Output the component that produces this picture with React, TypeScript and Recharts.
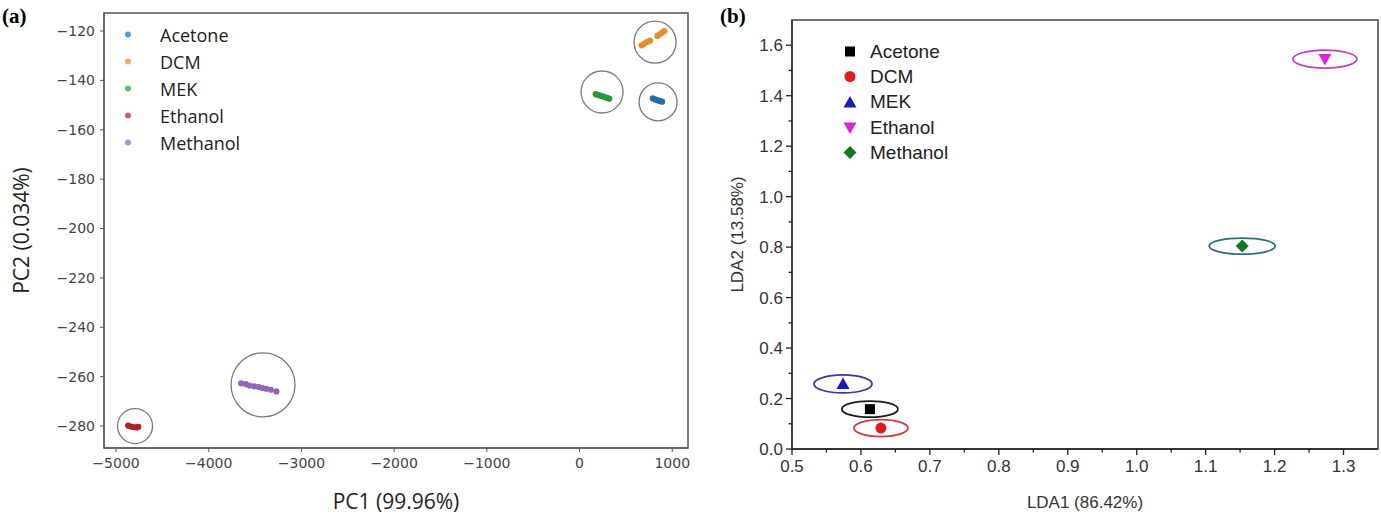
import React from "react";
import { ScatterChart, Scatter, XAxis, YAxis, Label, ReferenceArea, Legend } from "recharts";

const solvents = ["Acetone", "DCM", "MEK", "Ethanol", "Methanol"];

// (a) PCA scores, PC1 / PC2
const acetonePC = [
  { x: 790, y: -147.3 }, { x: 815, y: -147.7 }, { x: 840, y: -148.0 },
  { x: 865, y: -148.3 }, { x: 890, y: -148.6 },
];
const dcmPC = [
  { x: 670, y: -125.8 }, { x: 700, y: -125.1 }, { x: 730, y: -124.4 }, { x: 760, y: -123.9 },
  { x: 840, y: -122.0 }, { x: 865, y: -121.3 }, { x: 890, y: -120.6 }, { x: 915, y: -120.0 },
];
const mekPC = [
  { x: 175, y: -145.6 }, { x: 205, y: -146.0 }, { x: 235, y: -146.3 },
  { x: 265, y: -146.7 }, { x: 295, y: -147.1 }, { x: 320, y: -147.4 },
];
const ethanolPC = [
  { x: -4870, y: -279.8 }, { x: -4840, y: -280.2 }, { x: -4810, y: -280.4 },
  { x: -4780, y: -280.6 }, { x: -4760, y: -280.3 },
];
const methanolPC = [
  { x: -3650, y: -262.7 }, { x: -3600, y: -263.0 }, { x: -3560, y: -263.6 },
  { x: -3510, y: -263.9 }, { x: -3460, y: -264.2 }, { x: -3420, y: -264.6 },
  { x: -3380, y: -264.9 }, { x: -3330, y: -265.3 }, { x: -3270, y: -266.0 },
];
const pcaSeries = [acetonePC, dcmPC, mekPC, ethanolPC, methanolPC];
const ringX = [847, 815, 243, -4795, -3414];
const ringY = [-148.7, -124.5, -144.7, -280, -263.3];
const pcaXTicks = [-5000, -4000, -3000, -2000, -1000, 0, 1000];
const pcaYTicks = [-120, -140, -160, -180, -200, -220, -240, -260, -280];

// (b) LDA scores
const ldaX = [0.613, 0.629, 0.574, 1.273, 1.153];
const ldaY = [0.158, 0.083, 0.258, 1.545, 0.804];
const ldaXMajor = [0.5, 0.6, 0.7, 0.8, 0.9, 1.0, 1.1, 1.2, 1.3];
const ldaXMinor = [0.55, 0.65, 0.75, 0.85, 0.95, 1.05, 1.15, 1.25];
const ldaYMajor = [0, 0.2, 0.4, 0.6, 0.8, 1.0, 1.2, 1.4, 1.6];
const ldaYMinor = [0.1, 0.3, 0.5, 0.7, 0.9, 1.1, 1.3, 1.5];

const pcaColor: Record<string, string> = {
  Acetone: "#1f6fa8", DCM: "#ea8c25", MEK: "#2a9a34", Ethanol: "#b3202c", Methanol: "#8f66bd",
};
const ringPx: Record<string, number> = { Acetone: 19, DCM: 21, MEK: 21, Ethanol: 17.5, Methanol: 32 };
const ellipseColor: Record<string, string> = {
  Acetone: "#1a1a1a", DCM: "#cc3a3a", MEK: "#3535b5", Ethanol: "#c23cc8", Methanol: "#2a7272",
};
const ellipsePx: Record<string, [number, number]> = {
  Acetone: [28, 8], DCM: [27, 8.5], MEK: [29, 9], Ethanol: [32, 9], Methanol: [33, 8],
};

const rings = solvents.map((name, i) => ({ name, x: ringX[i], y: ringY[i] }));
const ldaPoints = solvents.map((name, i) => ({ name, x: ldaX[i], y: ldaY[i] }));

const minus = (v: number) => String(v).replace("-", "\u2212");

const ldaMarker = (name: string, cx: number, cy: number) => {
  switch (name) {
    case "Acetone":
      return <rect x={cx - 5} y={cy - 5} width={10} height={10} fill="#000" />;
    case "DCM":
      return <circle cx={cx} cy={cy} r={5.5} fill="#e41a1a" />;
    case "MEK":
      return <polygon points={`${cx},${cy - 6.5} ${cx + 6.5},${cy + 5} ${cx - 6.5},${cy + 5}`} fill="#1818c8" />;
    case "Ethanol":
      return <polygon points={`${cx - 6.5},${cy - 5} ${cx + 6.5},${cy - 5} ${cx},${cy + 6.5}`} fill="#e020e0" />;
    default:
      return <polygon points={`${cx},${cy - 6.5} ${cx + 6.5},${cy} ${cx},${cy + 6.5} ${cx - 6.5},${cy}`} fill="#117a1e" />;
  }
};

const LdaXTick = (p: any) => {
  const v = p.payload.value;
  const major = ldaXMajor.includes(v);
  return (
    <g>
      <line x1={p.x} x2={p.x} y1={p.y} y2={p.y + (major ? 6 : 3.5)} stroke="#222" strokeWidth={1.3} />
      {major && (
        <text x={p.x} y={p.y + 23} textAnchor="middle" fontSize={17} fill="#333" fontFamily="Liberation Sans">
          {v.toFixed(1)}
        </text>
      )}
    </g>
  );
};

const LdaYTick = (p: any) => {
  const v = p.payload.value;
  const major = ldaYMajor.includes(v);
  return (
    <g>
      <line x1={p.x} x2={p.x - (major ? 6 : 3.5)} y1={p.y} y2={p.y} stroke="#222" strokeWidth={1.3} />
      {major && (
        <text x={p.x - 9} y={p.y + 6} textAnchor="end" fontSize={17} fill="#333" fontFamily="Liberation Sans">
          {v.toFixed(1)}
        </text>
      )}
    </g>
  );
};

const PcaLegend = () => (
  <div style={{ fontFamily: "Open Sans", fontSize: 18, color: "#222" }}>
    {solvents.map((s) => (
      <div key={s} style={{ height: 27, display: "flex", alignItems: "center" }}>
        <svg width={20} height={27}>
          <circle cx={10} cy={13.5} r={3} fill={pcaColor[s]} opacity={0.7} />
        </svg>
        <span style={{ marginLeft: 22 }}>{s}</span>
      </div>
    ))}
  </div>
);

const LdaLegend = () => (
  <div style={{ fontFamily: "Liberation Sans", fontSize: 19, color: "#222" }}>
    {solvents.map((s) => (
      <div key={s} style={{ height: 25.3, display: "flex", alignItems: "center" }}>
        <svg width={20} height={25}>{ldaMarker(s, 10, 12.5)}</svg>
        <span style={{ marginLeft: 10 }}>{s}</span>
      </div>
    ))}
  </div>
);

const pcaX: [number, number] = [-5130, 1170];
const pcaY: [number, number] = [-288.9, -112.7];
const ldaXDom: [number, number] = [0.5, 1.35];
const ldaYDom: [number, number] = [0, 1.7];

export default function App() {
  return (
    <div style={{ position: "absolute", left: 0, top: 0, width: 1381, height: 521, background: "#fff" }}>
      <div style={{ position: "absolute", left: 2, top: 4, fontFamily: "Liberation Serif", fontWeight: "bold", fontSize: 21 }}>(a)</div>
      <div style={{ position: "absolute", left: 720, top: 4, fontFamily: "Liberation Serif", fontWeight: "bold", fontSize: 21 }}>(b)</div>

      <div style={{ position: "absolute", left: 0, top: 0 }}>
        <ScatterChart width={700} height={521} margin={{ top: 13, right: 12, bottom: 0, left: 0 }}>
          <XAxis
            type="number" dataKey="x" domain={pcaX} ticks={pcaXTicks} interval={0} allowDataOverflow
            height={73} tickSize={4} tickMargin={6} tickFormatter={minus}
            stroke="#555" tick={{ fill: "#444", fontSize: 14, fontFamily: "DejaVu Sans" }}
          >
            <Label value="PC1 (99.96%)" position="insideBottom" offset={12} style={{ fontFamily: "Open Sans", fontSize: 21, fill: "#222" }} />
          </XAxis>
          <YAxis
            type="number" dataKey="y" domain={pcaY} ticks={pcaYTicks} interval={0} allowDataOverflow
            width={104} tickSize={4} tickMargin={5} tickFormatter={minus}
            stroke="#555" tick={{ fill: "#444", fontSize: 14, fontFamily: "DejaVu Sans" }}
          >
            <Label value="PC2 (0.034%)" position="insideLeft" offset={22} angle={-90} style={{ textAnchor: "middle", fontFamily: "Open Sans", fontSize: 21, fill: "#222" }} />
          </YAxis>
          <ReferenceArea x1={pcaX[0]} x2={pcaX[1]} y1={pcaY[0]} y2={pcaY[1]} fill="none" fillOpacity={0} stroke="#555" strokeWidth={1.5} />
          <Scatter
            data={rings} isAnimationActive={false} legendType="none"
            shape={(p: any) => <circle cx={p.cx} cy={p.cy} r={ringPx[p.payload.name]} fill="none" stroke="#7a7a7a" strokeWidth={1.3} />}
          />
          {pcaSeries.map((d, i) => (
            <Scatter
              key={solvents[i]} name={solvents[i]} data={d} isAnimationActive={false}
              shape={(p: any) => <circle cx={p.cx} cy={p.cy} r={3.1} fill={pcaColor[solvents[i]]} />}
            />
          ))}
          <Legend
            content={() => <PcaLegend />} layout="vertical" align="center" verticalAlign="middle"
            wrapperStyle={{ left: 118, top: 21, width: 160 }}
          />
        </ScatterChart>
      </div>

      <div style={{ position: "absolute", left: 700, top: 0 }}>
        <ScatterChart width={681} height={521} margin={{ top: 20, right: 3, bottom: 0, left: 0 }}>
          <XAxis
            type="number" dataKey="x" domain={ldaXDom} ticks={[...ldaXMajor, ...ldaXMinor]} interval={0} allowDataOverflow
            height={72} tickSize={0} tickMargin={0} tickLine={false} stroke="#222" strokeWidth={1.3} tick={<LdaXTick />}
          >
            <Label value="LDA1 (86.42%)" position="insideBottom" offset={13} style={{ fontFamily: "Liberation Sans", fontSize: 17, fill: "#333" }} />
          </XAxis>
          <YAxis
            type="number" dataKey="y" domain={ldaYDom} ticks={[...ldaYMajor, ...ldaYMinor]} interval={0} allowDataOverflow
            width={92} tickSize={0} tickMargin={0} tickLine={false} stroke="#222" strokeWidth={1.3} tick={<LdaYTick />}
          >
            <Label value="LDA2 (13.58%)" position="insideLeft" offset={37} angle={-90} style={{ textAnchor: "middle", fontFamily: "Liberation Sans", fontSize: 17, fill: "#333" }} />
          </YAxis>
          <ReferenceArea x1={ldaXDom[0]} x2={ldaXDom[1]} y1={ldaYDom[0]} y2={ldaYDom[1]} fill="none" fillOpacity={0} stroke="#444" strokeWidth={1.5} />
          <Scatter
            data={ldaPoints} isAnimationActive={false} legendType="none"
            shape={(p: any) => {
              const [rx, ry] = ellipsePx[p.payload.name];
              return <ellipse cx={p.cx} cy={p.cy} rx={rx} ry={ry} fill="none" stroke={ellipseColor[p.payload.name]} strokeWidth={1.8} />;
            }}
          />
          <Scatter
            data={ldaPoints} isAnimationActive={false}
            shape={(p: any) => ldaMarker(p.payload.name, p.cx, p.cy)}
          />
          <Legend
            content={() => <LdaLegend />} layout="vertical" align="center" verticalAlign="middle"
            wrapperStyle={{ left: 140, top: 39, width: 160 }}
          />
        </ScatterChart>
      </div>
    </div>
  );
}
